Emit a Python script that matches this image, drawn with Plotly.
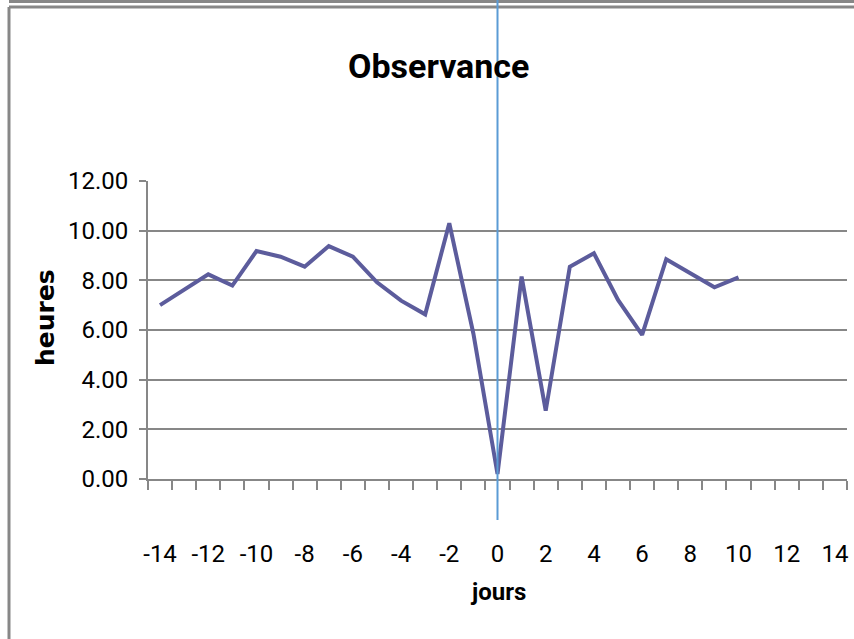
import plotly.graph_objects as go

# --- Data ---
jours = list(range(-14, 11))
heures = [7.0, 7.6, 8.24, 7.79, 9.18, 8.95, 8.55, 9.38, 8.95, 7.92, 7.18, 6.63,
          10.3, 5.85, 0.2, 8.15, 2.75, 8.55, 9.09, 7.21, 5.8, 8.85, 8.3, 7.72, 8.12]
x_labels = list(range(-14, 15, 2))
y_ticks = [0, 2, 4, 6, 8, 10, 12]

# --- Design ---
W, H = 854, 639
L, R, T, B = 148, 7, 181, 160
GREY = "#878787"
LINE = "#5C5C9C"
MARKER_BLUE = "#5B9BD5"
NARROW = "Roboto, Lato, sans-serif"


def px(x, y):
    """pixel position -> paper coordinates"""
    return (x - L) / (W - L - R), (H - B - y) / (H - T - B)


fig = go.Figure()
fig.add_trace(go.Scatter(
    x=jours, y=heures, mode="lines",
    line=dict(color=LINE, width=4),
    hoverinfo="x+y",
))

fig.update_layout(
    width=W, height=H,
    margin=dict(l=L, r=R, t=T, b=B),
    paper_bgcolor="white", plot_bgcolor="white",
    showlegend=False,
    font=dict(family=NARROW, color="black"),
    xaxis=dict(
        range=[-14.5, 14.5],
        tickmode="array", tickvals=x_labels, ticktext=[str(v) for v in x_labels],
        ticks="", showgrid=False, zeroline=False,
        showline=True, linecolor=GREY, linewidth=2,
        tickfont=dict(size=24, family=NARROW),
        ticklabelstandoff=52,
        minor=dict(tickmode="linear", tick0=-14.5, dtick=1, ticks="outside",
                   ticklen=9, tickwidth=1.5, tickcolor=GREY, showgrid=False),
    ),
    yaxis=dict(
        range=[0, 12],
        tickmode="array", tickvals=y_ticks, tickformat=".2f",
        ticks="outside", ticklen=7, tickwidth=1.5, tickcolor=GREY,
        showgrid=True, gridcolor=GREY, gridwidth=2,
        zeroline=False, showline=True, linecolor=GREY, linewidth=2,
        tickfont=dict(size=24, family=NARROW),
        ticklabelstandoff=6,
    ),
)

# chart frame (Excel chart-area border, cropped)
x0, y0 = px(9, 1.5)
x1, _ = px(860, 0)
_, y6 = px(0, 7)
_, yb = px(0, 645)
for ya in (y0, y6):
    fig.add_shape(type="line", xref="paper", yref="paper", x0=x0, x1=x1, y0=ya, y1=ya,
                  line=dict(color=GREY, width=3), layer="above")
fig.add_shape(type="line", xref="paper", yref="paper", x0=x0, x1=x0, y0=y6, y1=yb,
              line=dict(color=GREY, width=3), layer="above")

# vertical marker at day 0
_, top = px(0, 0)
_, bot = px(0, 520)
fig.add_shape(type="line", xref="x", yref="paper", x0=0, x1=0, y0=bot, y1=top,
              line=dict(color=MARKER_BLUE, width=2), layer="above")

# titles
tx, ty = px(438, 66)
fig.add_annotation(text="<b>Observance</b>", x=tx, y=ty, xref="paper", yref="paper",
                   xanchor="center", yanchor="middle",
                   showarrow=False, font=dict(size=34, family=NARROW))
jx, jy = px(498, 592)
fig.add_annotation(text="<b>jours</b>", x=jx, y=jy, xref="paper", yref="paper",
                   xanchor="center", yanchor="middle",
                   showarrow=False, font=dict(size=24, family=NARROW))
hx, hy = px(45, 318)
fig.add_annotation(text="<b>heures</b>", x=hx, y=hy, xref="paper", yref="paper",
                   xanchor="center", yanchor="middle",
                   showarrow=False, textangle=-90,
                   font=dict(size=25, family="DejaVu Sans, sans-serif"))

# page margin off so the figure sits at the window's top-left corner
fig.write_html("out.html", config={"displayModeBar": False},
               post_script="document.body.style.margin='0px';")
